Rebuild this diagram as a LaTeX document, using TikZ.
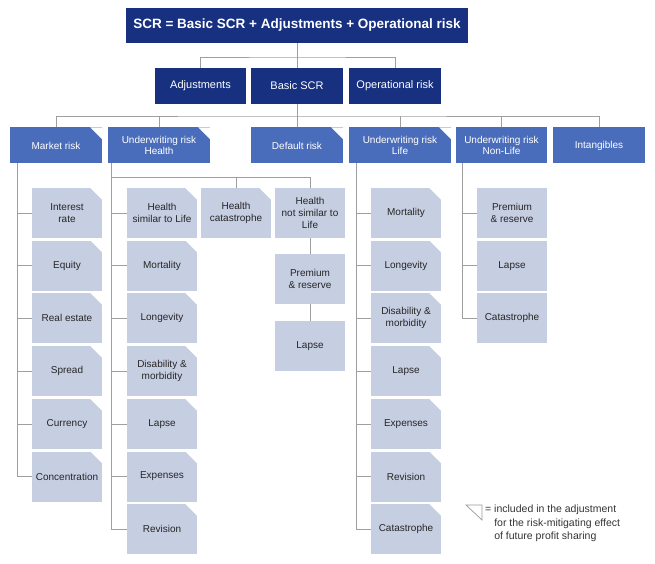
\documentclass[tikz,border=0pt]{standalone}
\usepackage{fontspec}
\setmainfont{Liberation Sans}
\begin{document}
\begin{tikzpicture}[x=1pt,y=-1pt,
  every node/.style={align=center,inner sep=1pt},
  dark/.style={fill=dkb,text=white,minimum height=36pt,font=\fontsize{11}{13}\selectfont},
  mid/.style={fill=mdb,text=white,minimum height=36pt,font=\fontsize{10}{11.5}\selectfont},
  sub/.style={fill=ltb,text=black!85,minimum width=70pt,minimum height=50pt,font=\fontsize{10}{12}\selectfont},
  conn/.style={draw=gray!75,line width=0.8pt}]
\definecolor{dkb}{HTML}{173080}
\definecolor{mdb}{HTML}{4A6DBB}
\definecolor{ltb}{HTML}{C6CEE2}
\newcommand\crn[1]{\fill[white] ([xshift=-12pt]#1.north east) -- (#1.north east) -- ([yshift=-12pt]#1.north east) -- cycle;}
\useasboundingbox (0,0) rectangle (655,564);
% top
\node[dark,minimum width=342pt,minimum height=35pt,font=\fontsize{13.5}{15}\selectfont\bfseries] (top) at (297,25.5) {SCR = Basic SCR + Adjustments + Operational risk};
\node[dark,minimum width=91pt] (adj) at (200.5,86) {Adjustments};
\node[dark,minimum width=92pt] (bas) at (297,86) {Basic SCR};
\node[dark,minimum width=92pt] (op) at (395,86) {Operational risk};
% row 3
\node[mid,minimum width=92pt] (mk) at (56,145.5) {Market risk};
\node[mid,minimum width=102pt] (hl) at (159,145.5) {Underwriting risk\\Health};
\node[mid,minimum width=92pt] (df) at (297,145.5) {Default risk};
\node[mid,minimum width=102pt] (lf) at (400,145.5) {Underwriting risk\\Life};
\node[mid,minimum width=91pt] (nl) at (501.5,145.5) {Underwriting risk\\Non-Life};
\node[mid,minimum width=92pt] (in) at (599,145.5) {Intangibles};
% market
\node[sub] (m1) at (67,213) {Interest\\rate};
\node[sub] (m2) at (67,265.6) {Equity};
\node[sub] (m3) at (67,318) {Real estate};
\node[sub] (m4) at (67,371) {Spread};
\node[sub] (m5) at (67,424) {Currency};
\node[sub] (m6) at (67,476.5) {Concentration};
% health
\node[sub] (h1) at (162,213) {Health\\similar to Life};
\node[sub] (h2) at (162,265.6) {Mortality};
\node[sub] (h3) at (162,318) {Longevity};
\node[sub] (h4) at (162,371) {Disability \&\\morbidity};
\node[sub] (h5) at (162,424) {Lapse};
\node[sub] (h6) at (162,476.5) {Expenses};
\node[sub] (h7) at (162,529) {Revision};
\node[sub] (hc) at (236,213) {Health\\catastrophe};
\node[sub] (hn) at (310,213) {Health\\not similar to\\Life};
\node[sub] (hp) at (310,279) {Premium\\\& reserve};
\node[sub] (hq) at (310,346) {Lapse};
% life
\node[sub] (l1) at (406,213) {Mortality};
\node[sub] (l2) at (406,265.6) {Longevity};
\node[sub] (l3) at (406,318) {Disability \&\\morbidity};
\node[sub] (l4) at (406,371) {Lapse};
\node[sub] (l5) at (406,424) {Expenses};
\node[sub] (l6) at (406,476.5) {Revision};
\node[sub] (l7) at (406,529) {Catastrophe};
% non-life
\node[sub] (n1) at (512,213) {Premium\\\& reserve};
\node[sub] (n2) at (512,265.6) {Lapse};
\node[sub] (n3) at (512,318) {Catastrophe};
% corners
\foreach \n in {mk,hl,df,lf,m1,m2,m3,m4,m5,m6,h1,h2,h3,h4,h5,h6,h7,hc,l1,l2,l3,l4,l5,l6,l7} {\crn{\n}}
% connectors
\coordinate (j1) at (297,57);
\coordinate (j2) at (297,116);
\draw[conn] (top.south) -- (j1);
\draw[conn] (adj.north) |- (j1) -| (op.north);
\draw[conn] (j1) -- (bas.north);
\draw[conn] (bas.south) -- (j2);
\draw[conn] (mk.north) |- (j2) -| (in.north);
\foreach \n in {hl,df,lf,nl} {\draw[conn] (\n.north) -- (\n.north |- j2);}
\coordinate (ms) at (17,163.5);
\draw[conn] (ms) |- (m6.west);
\foreach \n in {m1,m2,m3,m4,m5} {\draw[conn] (\n.west) -- (\n.west -| ms);}
\coordinate (hs) at (111,163.5);
\coordinate (hj) at (111,177);
\draw[conn] (hs) |- (h7.west);
\foreach \n in {h1,h2,h3,h4,h5,h6} {\draw[conn] (\n.west) -- (\n.west -| hs);}
\draw[conn] (hj) -| (hn.north);
\draw[conn] (hc.north) -- (hc.north |- hj);
\draw[conn] (hn.south) -- (hp.north);
\draw[conn] (hp.south) -- (hq.north);
\coordinate (ls) at (356,163.5);
\draw[conn] (ls) |- (l7.west);
\foreach \n in {l1,l2,l3,l4,l5,l6} {\draw[conn] (\n.west) -- (\n.west -| ls);}
\coordinate (ns) at (462,163.5);
\draw[conn] (ns) |- (n3.west);
\foreach \n in {n1,n2} {\draw[conn] (\n.west) -- (\n.west -| ns);}
% legend
\coordinate (lg1) at (466,505);
\coordinate (lg2) at (482,505);
\coordinate (lg3) at (482,520);
\draw[gray!80,line width=0.7pt] (lg1) -- (lg2) -- (lg3) -- cycle;
\node[anchor=north west,align=left,inner sep=0pt,font=\fontsize{10.5}{13.5}\selectfont,text=black!80] (lgt) at (485,505) {= included in the adjustment\\\hphantom{= }for the risk-mitigating effect\\\hphantom{= }of future profit sharing};
\end{tikzpicture}
\end{document}
